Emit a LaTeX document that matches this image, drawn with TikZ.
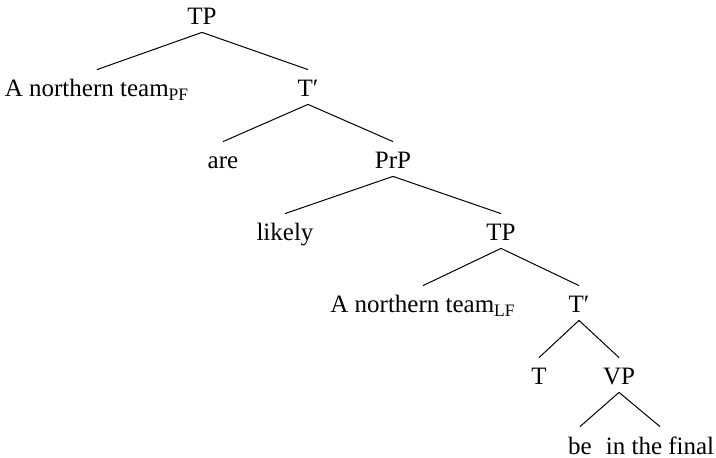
\documentclass[tikz,border=0pt]{standalone}
\usepackage{fontspec}
\setmainfont{Liberation Serif}
\usepackage{tikz}

\begin{document}
\begin{tikzpicture}[x=0.5pt,y=-0.5pt,
  cat/.style={anchor=base,inner xsep=0pt,inner ysep=1.5pt,text height=12pt,text depth=2pt,font=\fontsize{12.5}{14}\selectfont},
  branch/.style={line width=.5pt}]
\path[use as bounding box] (0,0) rectangle (716,458);
\node[cat] (tp) at (202,25) {TP};
\node[cat] (pf) at (97,97) {A northern team\textsubscript{PF}};
\node[cat] (tbar) at (308,97) {T′};
\node[cat] (are) at (223,169) {are};
\node[cat] (prp) at (393,169) {PrP};
\node[cat] (likely) at (285,241) {likely};
\node[cat] (tplow) at (501,241) {TP};
\node[cat] (lf) at (423,313) {A northern team\textsubscript{LF}};
\node[cat] (tbarlow) at (579,313) {T′};
\node[cat] (t) at (539,385) {T};
\node[cat] (vp) at (619,385) {VP};
\node[cat] (be) at (580,454) {be};
\node[cat] (final) at (660,454) {in the final};
\draw[branch] (tp.south) -- (pf.north);
\draw[branch] (tp.south) -- (tbar.north);
\draw[branch] (tbar.south) -- (are.north);
\draw[branch] (tbar.south) -- (prp.north);
\draw[branch] (prp.south) -- (likely.north);
\draw[branch] (prp.south) -- (tplow.north);
\draw[branch] (tplow.south) -- (lf.north);
\draw[branch] (tplow.south) -- (tbarlow.north);
\draw[branch] (tbarlow.south) -- (t.north);
\draw[branch] (tbarlow.south) -- (vp.north);
\draw[branch] (vp.south) -- (be.north);
\draw[branch] (vp.south) -- (final.north);
\end{tikzpicture}
\end{document}
